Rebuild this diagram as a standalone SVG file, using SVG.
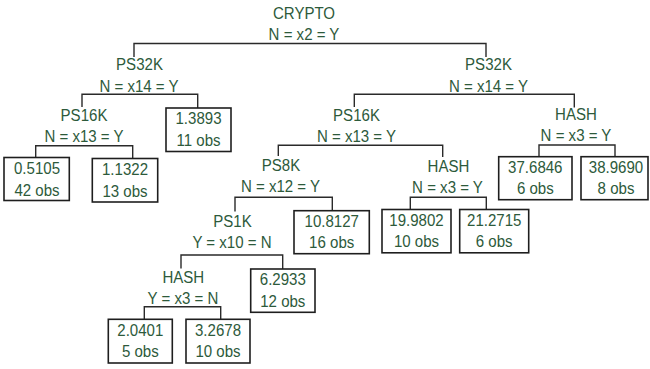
<svg xmlns="http://www.w3.org/2000/svg" width="650" height="369" viewBox="0 0 650 369">
<style>
text{font-family:"Liberation Sans",Arial,sans-serif;font-size:17px;fill:#2d5a3b;text-anchor:middle}
.box{fill:#fff;stroke:#1e1e1e;stroke-width:1.6}
.edge{fill:none;stroke:#2a2a2a;stroke-width:1.4}
</style>
<rect width="650" height="369" fill="#fff"/>
<g id="connectors">
<path class="edge" d="M134,57 V43.5 H486 V57"/>
<path class="edge" d="M82,107 V94.3 H197.7 V108"/>
<path class="edge" d="M354.3,107 V94.3 H574.3 V107.5"/>
<path class="edge" d="M35.7,157.5 V145.7 H132.7 V158.5"/>
<path class="edge" d="M278.3,156 V145.3 H442.7 V157"/>
<path class="edge" d="M539,156.7 V145 H615 V156.7"/>
<path class="edge" d="M235,211.5 V197.3 H332.3 V210.7"/>
<path class="edge" d="M410.3,209.5 V197.3 H486.3 V209.5"/>
<path class="edge" d="M181,268.5 V255 H282.7 V269"/>
<path class="edge" d="M144.3,319.3 V306.7 H220.7 V319.3"/>
</g>
<g id="n_root">
<text transform="translate(304,19) scale(0.885,1)">CRYPTO</text>
<text transform="translate(304,40) scale(0.885,1)">N = x2 = Y</text>
</g>
<g id="n_ps32k_l">
<text transform="translate(139.5,70) scale(0.885,1)">PS32K</text>
<text transform="translate(139,91.5) scale(0.885,1)">N = x14 = Y</text>
</g>
<g id="n_ps32k_r">
<text transform="translate(488.5,70) scale(0.885,1)">PS32K</text>
<text transform="translate(488.5,91.5) scale(0.885,1)">N = x14 = Y</text>
</g>
<g id="n_ps16k_l">
<text transform="translate(84,120.5) scale(0.885,1)">PS16K</text>
<text transform="translate(84,141.5) scale(0.885,1)">N = x13 = Y</text>
</g>
<g id="n_leaf_13893">
<rect class="box" x="166" y="108" width="65" height="43.5"/>
<text transform="translate(198.5,124.3) scale(0.885,1)">1.3893</text>
<text transform="translate(198.5,146) scale(0.885,1)">11 obs</text>
</g>
<g id="n_leaf_05105">
<rect class="box" x="4" y="157.5" width="65.3" height="43"/>
<text transform="translate(37,174) scale(0.885,1)">0.5105</text>
<text transform="translate(37,195.5) scale(0.885,1)">42 obs</text>
</g>
<g id="n_leaf_11322">
<rect class="box" x="92.3" y="158.5" width="65.4" height="43.5"/>
<text transform="translate(125,174.8) scale(0.885,1)">1.1322</text>
<text transform="translate(125,196.5) scale(0.885,1)">13 obs</text>
</g>
<g id="n_ps16k_r">
<text transform="translate(356.5,120.5) scale(0.885,1)">PS16K</text>
<text transform="translate(356.5,141.5) scale(0.885,1)">N = x13 = Y</text>
</g>
<g id="n_hash_r">
<text transform="translate(576,120) scale(0.885,1)">HASH</text>
<text transform="translate(576,141) scale(0.885,1)">N = x3 = Y</text>
</g>
<g id="n_leaf_376846">
<rect class="box" x="498.7" y="156.7" width="73.3" height="43"/>
<text transform="translate(535.3,172.5) scale(0.885,1)">37.6846</text>
<text transform="translate(535.3,194) scale(0.885,1)">6 obs</text>
</g>
<g id="n_leaf_389690">
<rect class="box" x="581" y="156.7" width="67" height="43"/>
<text transform="translate(616,172.5) scale(0.885,1)">38.9690</text>
<text transform="translate(616,194) scale(0.885,1)">8 obs</text>
</g>
<g id="n_ps8k">
<text transform="translate(281,171) scale(0.885,1)">PS8K</text>
<text transform="translate(280.5,192) scale(0.885,1)">N = x12 = Y</text>
</g>
<g id="n_hash_m">
<text transform="translate(448.5,171.5) scale(0.885,1)">HASH</text>
<text transform="translate(447.5,192.5) scale(0.885,1)">N = x3 = Y</text>
</g>
<g id="n_leaf_108127">
<rect class="box" x="294" y="210.7" width="75.3" height="43"/>
<text transform="translate(331.7,226.7) scale(0.885,1)">10.8127</text>
<text transform="translate(331.7,248) scale(0.885,1)">16 obs</text>
</g>
<g id="n_leaf_199802">
<rect class="box" x="382" y="209.5" width="69" height="43.3"/>
<text transform="translate(416.5,225.8) scale(0.885,1)">19.9802</text>
<text transform="translate(416.5,247.3) scale(0.885,1)">10 obs</text>
</g>
<g id="n_leaf_212715">
<rect class="box" x="459.7" y="209.5" width="69" height="43.3"/>
<text transform="translate(494.2,225.8) scale(0.885,1)">21.2715</text>
<text transform="translate(494.2,247.3) scale(0.885,1)">6 obs</text>
</g>
<g id="n_ps1k">
<text transform="translate(232.5,226.5) scale(0.885,1)">PS1K</text>
<text transform="translate(232,247.5) scale(0.885,1)">Y = x10 = N</text>
</g>
<g id="n_leaf_62933">
<rect class="box" x="250.7" y="269" width="64.3" height="43.3"/>
<text transform="translate(282.8,285.3) scale(0.885,1)">6.2933</text>
<text transform="translate(282.8,306.7) scale(0.885,1)">12 obs</text>
</g>
<g id="n_hash_b">
<text transform="translate(183.3,282.5) scale(0.885,1)">HASH</text>
<text transform="translate(183,303.5) scale(0.885,1)">Y = x3 = N</text>
</g>
<g id="n_leaf_20401">
<rect class="box" x="108.3" y="319.3" width="64" height="43.7"/>
<text transform="translate(140.3,335.8) scale(0.885,1)">2.0401</text>
<text transform="translate(140.3,357) scale(0.885,1)">5 obs</text>
</g>
<g id="n_leaf_32678">
<rect class="box" x="186" y="319.3" width="64" height="43.7"/>
<text transform="translate(218,335.8) scale(0.885,1)">3.2678</text>
<text transform="translate(218,357) scale(0.885,1)">10 obs</text>
</g>
</svg>
